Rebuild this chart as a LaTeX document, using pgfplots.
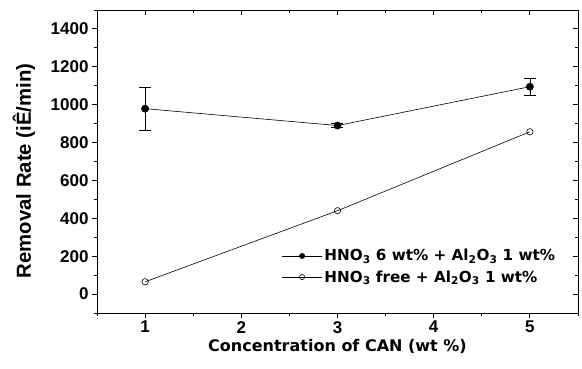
\documentclass[border=0pt]{standalone}
\usepackage{pgfplots}
\pgfplotsset{compat=1.18}
\usepackage{fontspec}
\setmainfont{Liberation Sans}
\newfontfamily\verd{DejaVu Sans}
\newcommand\tl[1]{{\fontsize{17}{18}\selectfont\bfseries #1}}
\begin{document}
\begin{tikzpicture}
\begin{axis}[
  at={(0,0)}, anchor=south west,
  scale only axis, width=481pt, height=303pt,
  xmin=0.5, xmax=5.5, ymin=-100, ymax=1500,
  xtick={1,2,3,4,5}, ytick={0,200,400,600,800,1000,1200,1400},
  xticklabels={\tl{1},\tl{2},\tl{3},\tl{4},\tl{5}},
  yticklabels={\tl{0},\tl{200},\tl{400},\tl{600},\tl{800},\tl{1000},\tl{1200},\tl{1400}},
  xticklabel style={yshift=-2pt, inner ysep=1pt},
  minor xtick={0.5,1.5,...,5.5}, minor ytick={-100,100,...,1500},
  tick align=outside, xtick pos=bottom, ytick pos=left,
  major tick length=5pt, minor tick length=3pt,
  axis line style={line width=0.9pt}, tick style={line width=0.9pt,black},
  xlabel={\verd\bfseries\fontsize{16}{17}\selectfont Concentration of CAN (wt \%)},
  ylabel={\bfseries\fontsize{20.3}{21}\selectfont Removal Rate (iÊ/min)},
  xlabel style={at={(axis description cs:0.5,0)}, anchor=center, yshift=-33pt, inner ysep=1pt},
  ylabel style={at={(axis description cs:-0.1518,0.469)}, anchor=center},
  legend style={draw=none, fill=none, at={(0.957,0.09)}, anchor=south east,
    font=\verd\bfseries\fontsize{15.2}{16}\selectfont, row sep=4pt,
    legend cell align=left, inner sep=0pt},
  legend image code/.code={\draw[mark repeat=2,mark phase=2,#1,mark size=2.6pt] plot coordinates {(0pt,0pt)(20pt,0pt)(40pt,0pt)};},
]
\addplot[black, line width=0.6pt, mark=*, mark size=3.6pt,
  error bars/.cd, y dir=both, y explicit, error mark options={rotate=90, mark size=6pt, line width=0.6pt, black}, error bar style={line width=0.6pt}]
  coordinates {(1,979) +- (0,115) (3,890) +- (0,12) (5,1095) +- (0,45)};
\addlegendentry{HNO\textsubscript{3} 6 wt\% + Al\textsubscript{2}O\textsubscript{3} 1 wt\%}
\addplot[black, line width=0.6pt, mark=o, mark size=3.2pt, mark options={fill=white, line width=0.6pt}]
  coordinates {(1,65) (3,440) (5,857)};
\addlegendentry{HNO\textsubscript{3} free + Al\textsubscript{2}O\textsubscript{3} 1 wt\%}
\end{axis}
\begin{axis}[
  at={(0,0)}, anchor=south west,
  scale only axis, width=481pt, height=303pt,
  xmin=0.5, xmax=5.5, ymin=-100, ymax=1500,
  xtick={1,2,3,4,5}, ytick={0,200,...,1400},
  minor xtick={0.5,1.5,...,5.5}, minor ytick={-100,100,...,1500},
  tick align=inside, xtick pos=top, ytick pos=right,
  major tick length=5pt, minor tick length=3pt,
  xticklabels={}, yticklabels={},
  axis line style={line width=0.9pt}, tick style={line width=0.9pt,black},
]
\end{axis}
\pgfresetboundingbox
\path (-97pt,-55pt) rectangle (485pt,313pt);
\end{tikzpicture}
\end{document}
